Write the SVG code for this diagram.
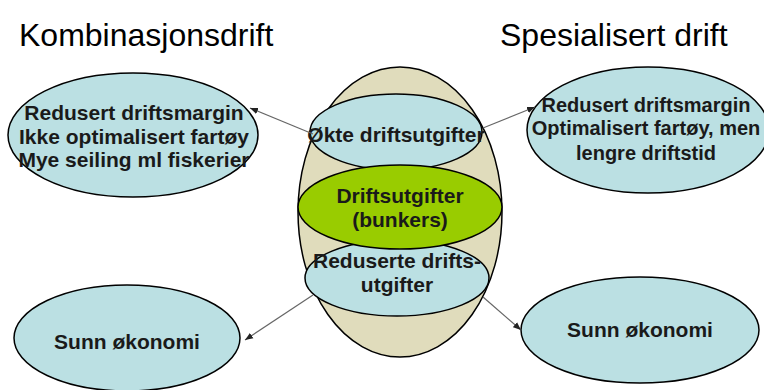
<svg xmlns="http://www.w3.org/2000/svg" width="764" height="390" viewBox="0 0 764 390">
<style>
.bl{fill:#BBE0E3;stroke:#000;stroke-width:1.5}
.tn{fill:#E0DCBC;stroke:#000;stroke-width:1.5}
.gr{fill:#99CC00;stroke:#000;stroke-width:1.5}
.t{font-family:"Liberation Sans",Arial,sans-serif;font-weight:bold;font-size:21px;fill:#1a1a1a;text-anchor:middle}
.s{font-size:20px}
.h{font-family:"Liberation Sans",Arial,sans-serif;font-size:32px;fill:#000}
.c{stroke:#666;stroke-width:1.2;fill:none;marker-end:url(#ah)}
</style>
<defs>
<marker id="ah" viewBox="0 0 10 10" refX="10" refY="5" markerWidth="8" markerHeight="8" markerUnits="userSpaceOnUse" orient="auto">
<path d="M0,1 L10,5 L0,9 z" fill="#222"/>
</marker>
</defs>
<rect width="764" height="390" fill="#fff"/>
<text class="h" x="19" y="46">Kombinasjonsdrift</text>
<text class="h" x="500" y="46">Spesialisert drift</text>

<g id="center">
<ellipse class="tn" cx="400" cy="212" rx="102" ry="145"/>
</g>
<g id="okte">
<ellipse class="bl" cx="396" cy="132" rx="86" ry="38"/>
<text class="t" x="396" y="142">Økte driftsutgifter</text>
</g>
<g id="reduserte">
<ellipse class="bl" cx="397" cy="278" rx="92" ry="38"/>
<text class="t" x="397" y="268">Reduserte drifts-</text>
<text class="t" x="397" y="292">utgifter</text>
</g>
<g id="driftsutgifter">
<ellipse class="gr" cx="400" cy="207" rx="102" ry="42"/>
<text class="t" x="400" y="203">Driftsutgifter</text>
<text class="t" x="400" y="227">(bunkers)</text>
</g>

<g id="left-top">
<ellipse class="bl" cx="133" cy="135" rx="125" ry="62"/>
<text class="t" x="134" y="120">Redusert driftsmargin</text>
<text class="t" x="134" y="144">Ikke optimalisert fartøy</text>
<text class="t" x="134" y="167">Mye seiling ml fiskerier</text>
</g>
<g id="right-top">
<ellipse class="bl" cx="648" cy="130" rx="121" ry="63"/>
<text class="t s" x="646" y="112">Redusert driftsmargin</text>
<text class="t s" x="646" y="135">Optimalisert fartøy, men</text>
<text class="t s" x="646" y="160">lengre driftstid</text>
</g>
<g id="left-bottom">
<ellipse class="bl" cx="127" cy="338" rx="113" ry="53"/>
<text class="t" x="127" y="349">Sunn økonomi</text>
</g>
<g id="right-bottom">
<ellipse class="bl" cx="640" cy="330" rx="119" ry="53"/>
<text class="t" x="640" y="337">Sunn økonomi</text>
</g>

<g id="connectors">
<line class="c" x1="313" y1="134" x2="250" y2="108"/>
<line class="c" x1="483" y1="128" x2="535" y2="107"/>
<line class="c" x1="313" y1="295" x2="245" y2="340"/>
<line class="c" x1="483" y1="297" x2="521" y2="330"/>
</g>
</svg>
